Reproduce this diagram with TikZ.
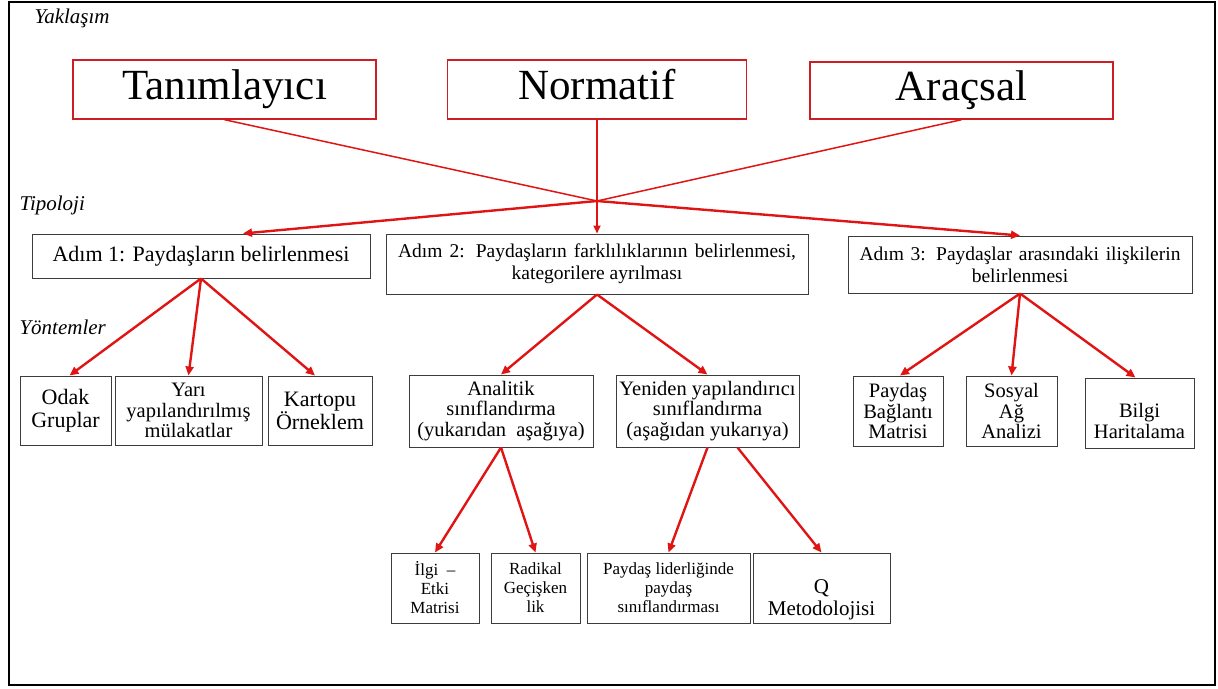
\documentclass[tikz,border=0pt]{standalone}
\usepackage{fontspec}
\setmainfont{Liberation Serif}
\usetikzlibrary{arrows.meta}
\definecolor{arrred}{RGB}{225,20,20}
\definecolor{topred}{RGB}{205,30,35}
\definecolor{boxgray}{RGB}{60,60,60}
\newcommand{\fsz}[2]{\fontsize{#1}{#2}\selectfont}
\begin{document}
\begin{tikzpicture}[x=1pt,y=-1pt,
  box/.style={draw=boxgray,line width=1pt,inner sep=0pt,align=center,fill=white},
  topbox/.style={draw=topred,line width=1.4pt,inner sep=0pt,font=\fsz{43}{45},text height=29.4pt,text depth=9.3pt},
  feed/.style={draw=arrred,line width=1.5pt},
  thinarr/.style={draw=arrred,line width=1.6pt,-{Triangle[length=8pt,width=7pt]}},
  arr/.style={draw=arrred,line width=2.4pt,-{Triangle[length=9pt,width=8pt]}},
  lab/.style={anchor=west,font=\itshape\fsz{21}{23}},
  mbig/.style={font=\fsz{22}{23}},
  mmid/.style={font=\fsz{20.5}{20.5}},
  msmall/.style={font=\fsz{17}{19}}]
\useasboundingbox (0,0) rectangle (1218,688);
\draw[line width=2.2pt] (9,2) rectangle (1215,685);

% labels
\node[lab] (l1) at (31,18) {Yaklaşım};
\node[lab] (l2) at (16,205) {Tipoloji};
\node[lab] (l3) at (16,327) {Yöntemler};

% top boxes
\node[topbox,minimum width=303,minimum height=59] (tan) at (224.5,89.5) {Tanımlayıcı};
\node[topbox,minimum width=299,minimum height=59] (nor) at (597,89.5) {Normatif};
\node[topbox,minimum width=303,minimum height=57] (ara) at (961.5,90.5) {Araçsal};
\coordinate (c) at (597,201);

% step boxes
\node[box,minimum width=338,minimum height=44,font=\fsz{22}{24}] (s1) at (201,256) {Adım 1: Paydaşların belirlenmesi};
\node[box,minimum width=422,minimum height=60,font=\fsz{19.5}{22}] (s2) at (597,264) {\makebox[398pt][s]{Adım 2: Paydaşların farklılıklarının belirlenmesi,}\\kategorilere ayrılması};
\node[box,minimum width=344,minimum height=57,font=\fsz{19.5}{22}] (s3) at (1020,264.5) {\makebox[321pt][s]{Adım 3: Paydaşlar arasındaki ilişkilerin}\\belirlenmesi};

% method row 1
\node[box,mbig,minimum width=91,minimum height=69] (m1) at (65.5,410.5) {Odak\\Gruplar};
\node[box,mmid,minimum width=147,minimum height=69] (m2) at (188.5,410.5) {Yarı\\yapılandırılmış\\mülakatlar};
\node[box,mbig,minimum width=104,minimum height=69] (m3) at (320,410.5) {Kartopu\\Örneklem};
\node[box,mmid,minimum width=184,minimum height=72] (m4) at (501,411) {Analitik\\sınıflandırma\\(yukarıdan\ \ aşağıya)};
\node[box,mmid,minimum width=183,minimum height=72] (m5) at (707.5,411) {Yeniden yapılandırıcı\\sınıflandırma\\(aşağıdan yukarıya)};
\node[box,mmid,minimum width=90,minimum height=70] (m6) at (898,411) {Paydaş\\Bağlantı\\Matrisi};
\node[box,mmid,minimum width=91,minimum height=70] (m7) at (1011.5,411) {Sosyal\\Ağ\\Analizi};
\node[box,minimum width=109,minimum height=70,
  label={[mmid,align=center,yshift=-8pt]center:Bilgi\\Haritalama}] (m8) at (1139.5,413) {};

% bottom row
\node[box,msmall,minimum width=88,minimum height=70] (b1) at (435,588) {İlgi \ –\\Etki\\Matrisi};
\node[box,msmall,minimum width=89,minimum height=70] (b2) at (535.5,588) {Radikal\\Geçişken\\lik};
\node[box,msmall,minimum width=163,minimum height=70] (b3) at (668.5,588) {Paydaş liderliğinde\\paydaş\\sınıflandırması};
\node[box,minimum width=137,minimum height=70,
  label={[font=\fsz{21}{22},align=center,yshift=-12pt]center:Q\\Metodolojisi}] (b4) at (821.5,588) {};

% connectors top
\draw[feed] (tan.south) -- (c);
\draw[feed] (ara.south) -- (c);
\draw[thinarr] (nor.south) -- (s2.north);
\draw[arr] (c) -- ([xshift=42]s1.north);
\draw[arr] (c) -- (s3.north);

% step 1
\draw[arr] (s1.south) -- ([xshift=4]m1.north);
\draw[arr] (s1.south) -- (m2.north);
\draw[arr] (s1.south) -- ([xshift=-5]m3.north);
% step 2
\draw[arr] (s2.south) -- (m4.north);
\draw[arr] (s2.south) -- (m5.north);
\draw[arr] (m4.south) -- (b1.north);
\draw[arr] (m4.south) -- (b2.north);
\draw[arr] (m5.south) -- (b3.north);
\draw[arr] ([xshift=30]m5.south) -- (b4.north);
% step 3
\draw[arr] (s3.south) -- ([xshift=2]m6.north);
\draw[arr] (s3.south) -- (m7.north);
\draw[arr] (s3.south) -- ([xshift=-4]m8.north);
\end{tikzpicture}
\end{document}
